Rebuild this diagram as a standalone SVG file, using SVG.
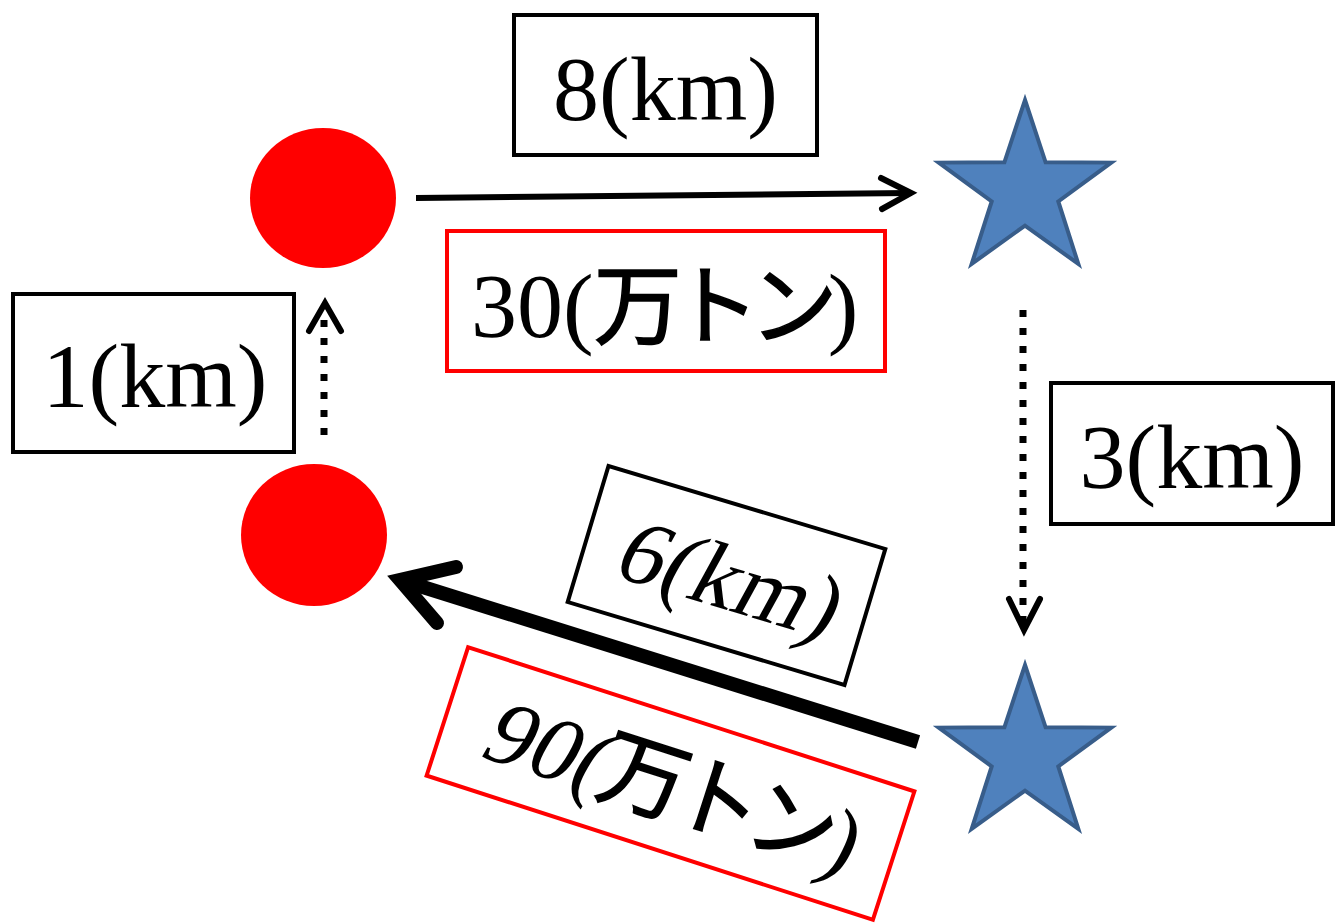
<svg xmlns="http://www.w3.org/2000/svg" width="1336" height="923" viewBox="0 0 1336 923">
<style>
.box{fill:#fff;stroke:#000;stroke-width:4}
.rbox{fill:#fff;stroke:#f00;stroke-width:4}
.lbl{font-family:"Liberation Serif","Noto Sans CJK JP",serif;font-size:92px;fill:#000;text-anchor:middle}
.lft{text-anchor:start}
.cjk{font-family:"Noto Sans CJK JP",sans-serif;font-size:88px;font-weight:normal;letter-spacing:-10px;stroke:#000;stroke-width:1.6px}
.star{fill:#4F81BD;stroke:#385D8A;stroke-width:4}
.dot{fill:none;stroke:#000;stroke-width:7;stroke-dasharray:7 11}
.head{fill:none;stroke:#000;stroke-linecap:round;stroke-linejoin:miter}
</style>
<defs>
<path id="starShape" d="M0,-90.6 L20.6,-28.3 L86.2,-28 L33.3,10.8 L53.3,73.3 L0,35 L-53.3,73.3 L-33.3,10.8 L-86.2,-28 L-20.6,-28.3 Z"/>
</defs>
<rect width="1336" height="923" fill="#fff"/>
<g id="node-circle-top"><ellipse cx="323" cy="198" rx="73" ry="70" fill="#f00"/></g>
<g id="node-circle-bottom"><ellipse cx="314" cy="535" rx="73" ry="71" fill="#f00"/></g>
<g id="node-star-top"><use href="#starShape" class="star" transform="translate(1025,190.6)"/></g>
<g id="node-star-bottom"><use href="#starShape" class="star" transform="translate(1025,755.6)"/></g>
<g id="connectors">
<line x1="416" y1="198" x2="910" y2="193" stroke="#000" stroke-width="6"/>
<polyline class="head" stroke-width="6" points="881,178 911,193 882,209"/>
<line class="dot" x1="324" y1="435" x2="324" y2="310"/>
<polyline class="head" stroke-width="6" points="309,331 325,303 341,331"/>
<line class="dot" x1="1023" y1="310" x2="1023" y2="625"/>
<polyline class="head" stroke-width="6" points="1009,599 1024,630 1040,599"/>
<line x1="918" y1="742" x2="410" y2="583" stroke="#000" stroke-width="14"/>
<polyline class="head" stroke-width="14" points="456,567 400,580 437,623"/>
</g>
<g id="label-8km">
<rect class="box" x="514" y="15" width="303" height="140"/>
<text class="lbl" x="665.5" y="120">8(km)</text>
</g>
<g id="label-30t">
<rect class="rbox" x="447" y="231" width="438" height="140"/>
<text class="lbl lft" x="471" y="337">30(<tspan class="cjk">万トン</tspan>)</text>
</g>
<g id="label-1km">
<rect class="box" x="13" y="294" width="281" height="158"/>
<text class="lbl" x="155" y="407">1(km)</text>
</g>
<g id="label-3km">
<rect class="box" x="1051" y="383" width="282" height="141"/>
<text class="lbl" x="1192" y="488">3(km)</text>
</g>
<g id="label-6km" transform="translate(726.5,575.5) rotate(16.7)">
<rect class="box" x="-144.5" y="-71" width="289" height="142"/>
<text class="lbl" x="0" y="0" transform="translate(0,33) skewX(-12)">6(km)</text>
</g>
<g id="label-90t" transform="translate(670.5,783.5) rotate(17.9)">
<rect class="rbox" x="-234.5" y="-67.5" width="469" height="135"/>
<text class="lbl lft" x="0" y="0" transform="translate(-193,33) skewX(-12)">90(</text>
<text class="lbl lft cjk" x="-71" y="33">万トン</text>
<text class="lbl lft" x="0" y="0" transform="translate(163,33) skewX(-8)">)</text>
</g>
</svg>
